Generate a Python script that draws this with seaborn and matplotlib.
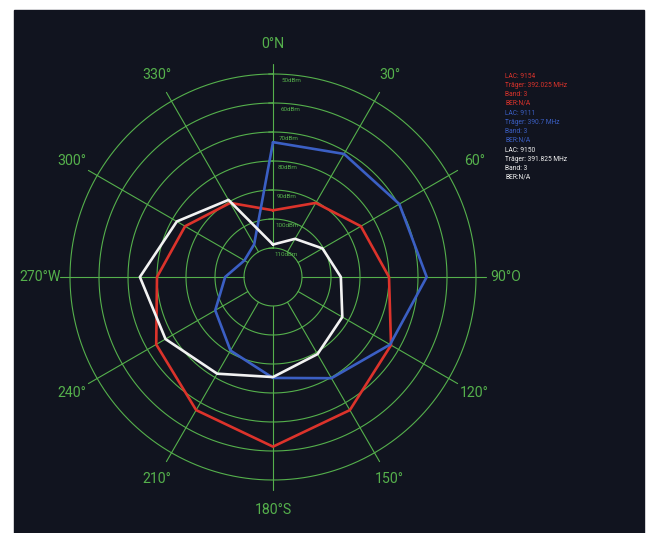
import numpy as np
import pandas as pd
import matplotlib
matplotlib.use('Agg')
import matplotlib.pyplot as plt
import seaborn as sns

# --- data (dBm per bearing) ---
angles = [0, 30, 60, 90, 120, 150, 180, 210, 240, 270, 300, 330]
red_dbm = [97, 90.5, 85, 80, 73, 67, 61.5, 67, 73.5, 80, 85, 90.5]
blue_dbm = [73.5, 71, 69.7, 67, 73.4, 79.7, 85.2, 90.7, 97, 103.5, 108.6, 107]
white_dbm = [108.8, 104.8, 100.3, 96.6, 92.4, 89.3, 85.5, 81.5, 77.2, 74.1, 81.7, 89.3]

ring_dbm = [110, 100, 90, 80, 70, 60, 50]
ring_labels = ['110dBm', '100dBm', '90dBm', '80dBm', '70dBm', '60dBm', '50dBm']
dir_labels = ['0°N', '30°', '60°', '90°O', '120°', '150°', '180°S',
              '210°', '240°', '270°W', '300°', '330°']

cells = ['LAC: 9154', 'LAC: 9111', 'LAC: 9150']
carriers = ['Träger: 392.025 MHz', 'Träger: 390.7 MHz', 'Träger: 391.825 MHz']
bands = ['Band: 3', 'Band: 3', 'Band: 3']
bers = ['BER:N/A', 'BER:N/A', 'BER:N/A']

BASE = 120  # dBm at the centre
BG = '#11141f'
GRID = '#55b04c'
colors = {'LAC: 9154': '#dc332b', 'LAC: 9111': '#3b5fc4', 'LAC: 9150': '#f2f2f2'}

rows = []
for name, vals in zip(cells, [red_dbm, blue_dbm, white_dbm]):
    for a, v in zip(angles + [360], vals + [vals[0]]):
        rows.append({'series': name, 'theta': np.deg2rad(a), 'r': BASE - v})
df = pd.DataFrame(rows)

sns.set_style('white')
plt.rcParams['font.family'] = ['Roboto', 'DejaVu Sans']

fig = plt.figure(figsize=(6.5, 5.33), dpi=100)
fig.patch.set_facecolor('white')
fig.add_artist(plt.Rectangle((14 / 650, 0), 630 / 650, 523 / 533,
                             transform=fig.transFigure, color=BG, zorder=0))

ax = fig.add_axes([41 / 650, 24 / 533, 464 / 650, 464 / 533], projection='polar')
ax.set_facecolor('none')
ax.set_theta_zero_location('N')
ax.set_theta_direction(-1)
ax.set_ylim(0, 80)
ax.grid(False)
ax.spines['polar'].set_visible(False)
ax.set_xticks([])
ax.set_yticks([])

# rings
t = np.linspace(0, 2 * np.pi, 400)
for d in ring_dbm:
    ax.plot(t, np.full_like(t, BASE - d), color=GRID, lw=0.8, zorder=1)

# spokes
for a in angles:
    ax.plot([np.deg2rad(a)] * 2, [BASE - 110, 73.5], color=GRID, lw=0.8, zorder=1)

# small ticks on the north axis
for d in ring_dbm:
    r = BASE - d
    ax.plot([0, -1.5 / r], [r, r], color=GRID, lw=0.8, zorder=1)

sns.lineplot(data=df, x='theta', y='r', hue='series', palette=colors,
             sort=False, estimator=None, lw=1.9, legend=False, ax=ax, zorder=3)
ax.set_xlabel('')
ax.set_ylabel('')
ax.set_ylim(0, 80)

# ring labels
for d, lab in zip(ring_dbm, ring_labels):
    ax.text(np.deg2rad(2.5), BASE - d - 1.2, lab, color=GRID, fontsize=4.5,
            ha='left', va='top', zorder=2)

# bearing labels
for a, lab in zip(angles, dir_labels):
    ax.text(np.deg2rad(a), 80.3, lab, color=GRID, fontsize=10.2,
            ha='center', va='center', zorder=2)

# legend block
y0 = 1 - 77 / 533
for i, name in enumerate(cells):
    col = colors[name]
    for j, txt in enumerate([cells[i], carriers[i], bands[i], bers[i]]):
        fig.text(505 / 650, y0 - (i * 37 + j * 8.8) / 533, txt, color=col,
                 fontsize=4.8, ha='left', va='center')

plt.savefig('out.png', dpi=100, facecolor=fig.get_facecolor())
plt.close()
